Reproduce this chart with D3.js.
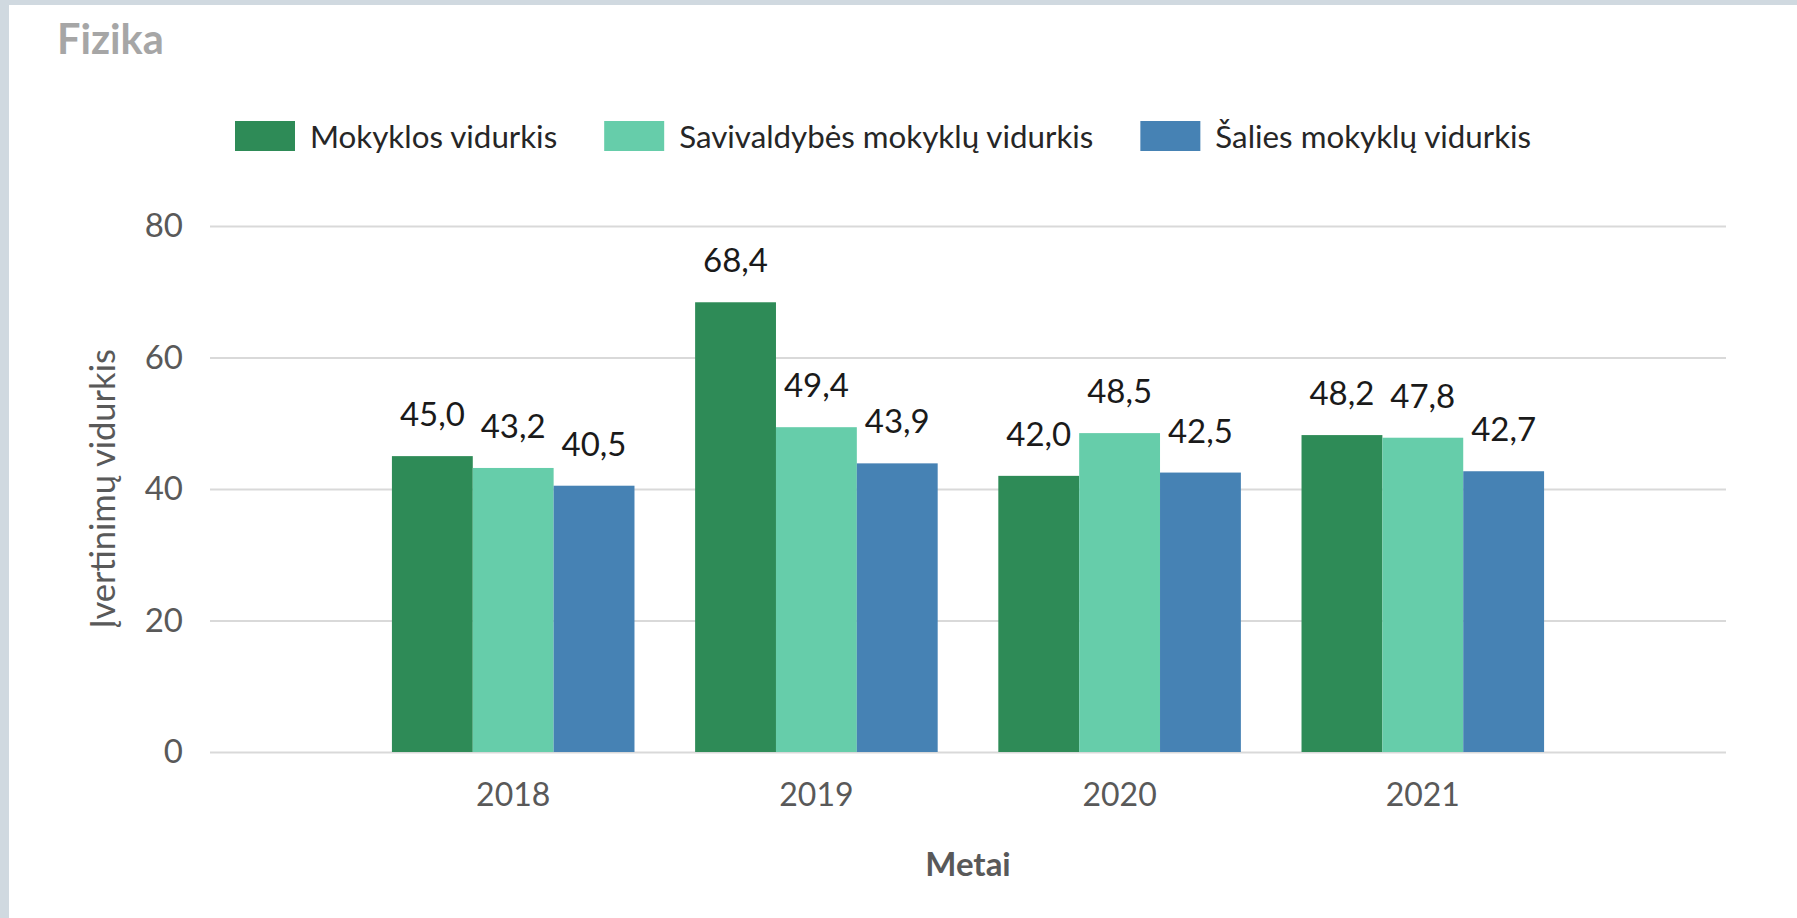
<!DOCTYPE html>
<html>
<head>
<meta charset="utf-8">
<script src="https://cdn.jsdelivr.net/npm/d3@7"></script>
<style>
  html, body { margin: 0; padding: 0; background: #d0d9e0; }
  svg { display: block; font-family: Lato, "Open Sans", sans-serif; }
</style>
</head>
<body>
<svg id="chart" width="1797" height="918"></svg>
<script>
const years = ["2018", "2019", "2020", "2021"]
const seriesNames = ["Mokyklos vidurkis", "Savivaldybės mokyklų vidurkis", "Šalies mokyklų vidurkis"]
const mokyklos = [45.0, 68.4, 42.0, 48.2]
const savivaldybes = [43.2, 49.4, 48.5, 47.8]
const salies = [40.5, 43.9, 42.5, 42.7]
const colors = ["#2e8b57", "#66cdaa", "#4682b4"]
const yTicks = [0, 20, 40, 60, 80]

const W = 1797, H = 918
const plot = {left: 210, right: 1726, top: 226, bottom: 752}

const svg = d3.select("svg#chart")

// white card with the grey-blue edge on top and left
svg.append("rect")
    .attr("x", 9).attr("y", 5)
    .attr("width", W - 9).attr("height", H - 5)
    .attr("fill", "#fff")

svg.append("text")
    .attr("x", 57).attr("y", 54)
    .attr("font-size", 41.5).attr("font-weight", 700)
    .attr("fill", "#a6a6a6")
    .text("Fizika")

const x = d3.scaleBand()
    .domain(years)
    .range([plot.left, plot.right])
    .paddingInner(0.2)
    .paddingOuter(0.6)

const xSub = d3.scaleBand()
    .domain(d3.range(seriesNames.length))
    .range([0, x.bandwidth()])

const y = d3.scaleLinear()
    .domain([0, 80])
    .range([plot.bottom, plot.top])

// grid + y labels
const yAxis = svg.append("g")
    .attr("transform", `translate(${plot.left},0)`)
    .call(d3.axisLeft(y).tickValues(yTicks).tickSize(-(plot.right - plot.left)).tickPadding(27))
yAxis.select(".domain").remove()
yAxis.selectAll(".tick line").attr("stroke", "#d9d9d9").attr("stroke-width", 2)
yAxis.selectAll(".tick text")
    .attr("font-family", "Lato, sans-serif")
    .attr("font-size", 33)
    .attr("fill", "#595959")

// x labels
const xAxis = svg.append("g")
    .attr("transform", `translate(0,${plot.bottom})`)
    .call(d3.axisBottom(x).tickSize(0).tickPadding(31))
xAxis.select(".domain").remove()
xAxis.selectAll(".tick text")
    .attr("font-family", "Lato, sans-serif")
    .attr("font-size", 32)
    .attr("fill", "#595959")

const series = [mokyklos, savivaldybes, salies]
const rows = []
series.forEach((vals, s) => {
  vals.forEach((v, i) => rows.push({year: years[i], s: s, value: v}))
})

const fmt = v => d3.format(".1f")(v).replace(".", ",")

svg.append("g")
  .selectAll("rect")
  .data(rows)
  .join("rect")
    .attr("x", d => x(d.year) + xSub(d.s))
    .attr("y", d => y(d.value))
    .attr("width", xSub.bandwidth())
    .attr("height", d => y(0) - y(d.value))
    .attr("fill", d => colors[d.s])

svg.append("g")
    .attr("text-anchor", "middle")
    .attr("font-size", 33)
    .attr("fill", "#1a1a1a")
  .selectAll("text")
  .data(rows)
  .join("text")
    .attr("x", d => x(d.year) + xSub(d.s) + xSub.bandwidth() / 2)
    .attr("y", d => y(d.value) - 30)
    .text(d => fmt(d.value))

// axis titles
svg.append("text")
    .attr("x", (plot.left + plot.right) / 2).attr("y", 876)
    .attr("text-anchor", "middle")
    .attr("font-size", 33).attr("font-weight", 700)
    .attr("fill", "#595959")
    .text("Metai")

svg.append("text")
    .attr("transform", `translate(101,${(plot.top + plot.bottom) / 2}) rotate(-90)`)
    .attr("text-anchor", "middle")
    .attr("dominant-baseline", "central")
    .attr("font-size", 34.5)
    .attr("fill", "#595959")
    .text("Įvertinimų vidurkis")

// legend
const legend = svg.append("g")
let lx = 235
seriesNames.forEach((name, i) => {
  legend.append("rect")
      .attr("x", lx).attr("y", 121)
      .attr("width", 60).attr("height", 30)
      .attr("fill", colors[i])
  const t = legend.append("text")
      .attr("x", lx + 75).attr("y", 136)
      .attr("dominant-baseline", "central")
      .attr("font-size", 31.3)
      .attr("fill", "#262626")
      .text(name)
  lx += 75 + t.node().getComputedTextLength() + 47
})
</script>
</body>
</html>
